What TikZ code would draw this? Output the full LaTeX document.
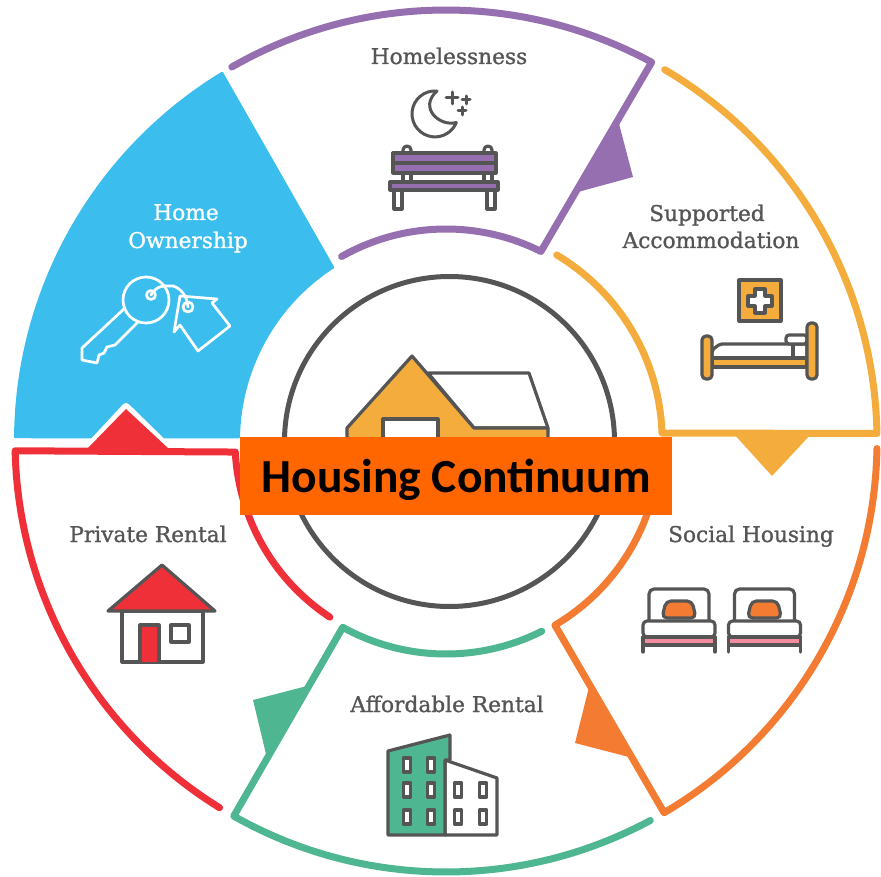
\documentclass[tikz,border=0pt]{standalone}
\usepackage{fontspec}
\setmainfont{DejaVu Serif}
\newfontfamily\labfont[FakeBold=1.1]{DejaVu Serif}
\newfontfamily\boxfont{Carlito}
\usetikzlibrary{calc}
\definecolor{cPurple}{HTML}{956FB0}
\definecolor{cAmber}{HTML}{F4AD3D}
\definecolor{cOrange}{HTML}{F47C32}
\definecolor{cRed}{HTML}{EF3039}
\definecolor{cGreen}{HTML}{4FB692}
\definecolor{cBlue}{HTML}{3BBEEE}
\definecolor{cDark}{HTML}{555555}
\definecolor{cPink}{HTML}{F38CA0}
\definecolor{cBanner}{HTML}{FF6600}
\tikzset{
  seg/.style={line width=7pt,line cap=round,line join=round,fill=none},
  icon/.style={draw=cDark,line width=3.2pt,line join=round,line cap=round},
  keyline/.style={draw=white,line width=2.7pt,line join=round,line cap=round,fill=none},
  lab/.style={text=cDark,font=\labfont\fontsize{21.7}{26}\selectfont,inner sep=0pt,anchor=base},
}
\begin{document}
\begin{tikzpicture}[x=1pt,y=1pt,yscale=-1]
\useasboundingbox (0,0) rectangle (881,877);
\fill[white] (0,0) rectangle (881,877);
\coordinate (c) at (446,441);

% blue sector
\path[fill=cBlue,draw=cBlue,line width=2pt,line join=round]
  ($(c)+(238.7:431)$) arc[start angle=238.7,end angle=180.5,radius=431]
  -- ($(c)+(181:207)$) arc[start angle=181,end angle=237,radius=207] -- cycle;
\draw[white,line width=8pt,line join=round,fill=white] (87,449) -- (126,407) -- (169,449) -- cycle;

% purple
\fill[cPurple] (618,120) -- (633,177) -- (578,192) -- cycle;
\draw[seg,cPurple] ($(c)+(240.2:431)$) arc[start angle=240.2,end angle=298.5,radius=431]
  -- ($(c)+(296.6:212)$) arc[start angle=296.6,end angle=240.5,radius=212];
% amber
\fill[cAmber] (733,433) -- (812,433) -- (772,476) -- cycle;
\draw[seg,cAmber] ($(c)+(300.5:431)$) arc[start angle=300.5,end angle=359,radius=431]
  -- (662,433) arc[start angle=358,end angle=300.8,radius=216];
% orange
\fill[cOrange] (589,687) -- (575,743) -- (629,757) -- cycle;
\draw[seg,cOrange] ($(c)+(1:431)$) arc[start angle=1,end angle=59.6,radius=431]
  -- ($(c)+(59.4:214)$) arc[start angle=59.4,end angle=10,radius=214];
% green
\fill[cGreen] (307,686) -- (253,700) -- (266,754) -- cycle;
\draw[seg,cGreen] ($(c)+(61.7:431)$) arc[start angle=61.7,end angle=119.5,radius=431]
  -- ($(c)+(119:213)$) arc[start angle=119,end angle=63.3,radius=213];
% red
\fill[cRed] (87,449) -- (126,409) -- (169,449) -- cycle;
\draw[seg,cRed] ($(c)+(121.7:431)$) arc[start angle=121.7,end angle=178.7,radius=431]
  -- ($(c)+(177:211)$) arc[start angle=177,end angle=123.4,radius=211];

% centre
\draw[cDark,line width=5pt] (449.5,441.5) circle[radius=165];
\path[icon,fill=white] (428,373) -- (529,373) -- (548,428) -- (474,428) -- cycle;
\path[icon,fill=cAmber] (412,356) -- (347,428) -- (347,445) -- (548,445) -- (548,428) -- (474,428) -- cycle;
\path[icon,fill=white] (383,419) rectangle (438,445);
\node[fill=cBanner,minimum width=432pt,minimum height=78pt,inner sep=0pt,outer sep=0pt,
      text height=36pt,text depth=4pt,
      font=\boxfont\bfseries\fontsize{47.5}{54}\selectfont,text=black] (banner) at (456,476) {Housing Continuum};

% labels
\node[lab] (lHomeless) at (449,64) {Homelessness};
\node[lab,text=white] (lOwn1) at (186,220) {Home};
\node[lab,text=white] (lOwn2) at (188,248) {Ownership};
\node[lab] (lSup1) at (707,221) {Supported};
\node[lab] (lSup2) at (711,248) {Accommodation};
\node[lab] (lSoc) at (751,542) {Social Housing};
\node[lab] (lAff) at (447,712) {Affordable Rental};
\node[lab] (lPriv) at (148,542) {Private Rental};

% moon and stars
\path[draw=cDark,line width=3pt,line join=round,fill=white]
  (437,91) arc[start angle=-85,end angle=-338,radius=23]
  .. controls (440,127) and (418,108) .. (437,91) -- cycle;
\draw[cDark,line width=3pt,line cap=round] (452,92)--(452,104) (446,98)--(458,98)
  (466,96)--(466,104) (462,100)--(470,100) (462,107)--(462,115) (458,111)--(466,111);
% bench
\path[icon,fill=white] (403,153) -- (403,150) arc[start angle=180,end angle=360,radius=4] -- (411,153);
\path[icon,fill=white] (484,153) -- (484,150) arc[start angle=180,end angle=360,radius=4] -- (492,153);
\path[icon,fill=white] (403,173) rectangle (411,182) (484,173) rectangle (492,182);
\path[icon,fill=cPurple] (393,153) rectangle (496,173);
\draw[icon] (393,163) -- (496,163);
\path[icon,fill=white] (394,190) rectangle (402,209) (487,190) rectangle (495,209);
\path[icon,fill=cPurple] (390,182) rectangle (498,190);

% key and tag
\draw[keyline] (125,308) -- (82,348) -- (82,360) -- (97,363) -- (99,355) -- (104,353) -- (107,347) -- (115,345) -- (138,322);
\draw[keyline] (146,300) circle[radius=23];
\draw[keyline] (151,295) circle[radius=4.5];
\draw[keyline] (151,295) .. controls (157,285) and (163,286) .. (173,286) .. controls (180,288) and (187,295) .. (188,307);
\draw[keyline] (180,296) -- (217,299) -- (212,303) -- (230,326) -- (198,351) -- (180,325) -- (174,332) -- cycle;
\draw[keyline] (188,307) circle[radius=5];

% supported accommodation icon
\path[icon,fill=cAmber] (739,280) rectangle (781,321);
\path[icon,fill=white] (755,289) -- (765,289) -- (765,296) -- (772,296) -- (772,306) -- (765,306) -- (765,313) -- (755,313) -- (755,306) -- (748,306) -- (748,296) -- (755,296) -- cycle;
\path[icon,fill=white,rounded corners=2pt] (712,358) -- (712,350) -- (720,344) -- (807,344) -- (807,358) -- cycle;
\draw[icon] (793,344) -- (793,358);
\path[icon,fill=white,rounded corners=3pt] (786,344) -- (786,335) -- (807,335) -- (807,344) -- cycle;
\path[icon,fill=cAmber] (712,358) rectangle (807,367);
\path[icon,fill=cAmber,rounded corners=4pt] (702,379) -- (702,336) -- (712,336) -- (712,379) -- cycle;
\path[icon,fill=cAmber,rounded corners=4pt] (807,379) -- (807,323) -- (817,323) -- (817,379) -- cycle;

% social housing beds
\foreach \s in {0,85.5}{
  \begin{scope}[xshift=\s pt]
    \path[icon,fill=white,rounded corners=5pt] (649,620) -- (649,589) -- (709,589) -- (709,620);
    \path[icon,fill=cOrange,rounded corners=5pt] (662,618) -- (666,601) -- (692,601) -- (696,618) -- cycle;
    \path[icon,fill=white,rounded corners=4pt] (643,637) -- (643,621) -- (715,621) -- (715,637) -- cycle;
    \path[icon,fill=cPink] (643,637) rectangle (715,645);
    \draw[icon] (643,645) -- (643,652) (715,645) -- (715,652);
  \end{scope}
}

% affordable rental building
\path[icon,fill=white] (445,760) -- (497,778) -- (497,835) -- (445,835) -- cycle;
\path[icon,fill=cGreen] (388,751) -- (450,735) -- (450,760) -- (445,760) -- (445,835) -- (388,835) -- cycle;
\foreach \x/\y in {407/765,431/765,407/790,431/790,407/817,431/817,458/790,483/790,458/817,483/817}{
  \path[icon,fill=white] (\x-3.5,\y-7) rectangle (\x+3.5,\y+7);
}

% private rental house
\path[icon,fill=white] (122,611) rectangle (203,662);
\path[icon,fill=cRed] (162,565) -- (108,611) -- (215,611) -- cycle;
\path[icon,fill=cRed] (140,662) -- (140,625) -- (159,625) -- (159,662);
\path[icon,fill=white] (171,625) rectangle (189,642);
\end{tikzpicture}
\end{document}
